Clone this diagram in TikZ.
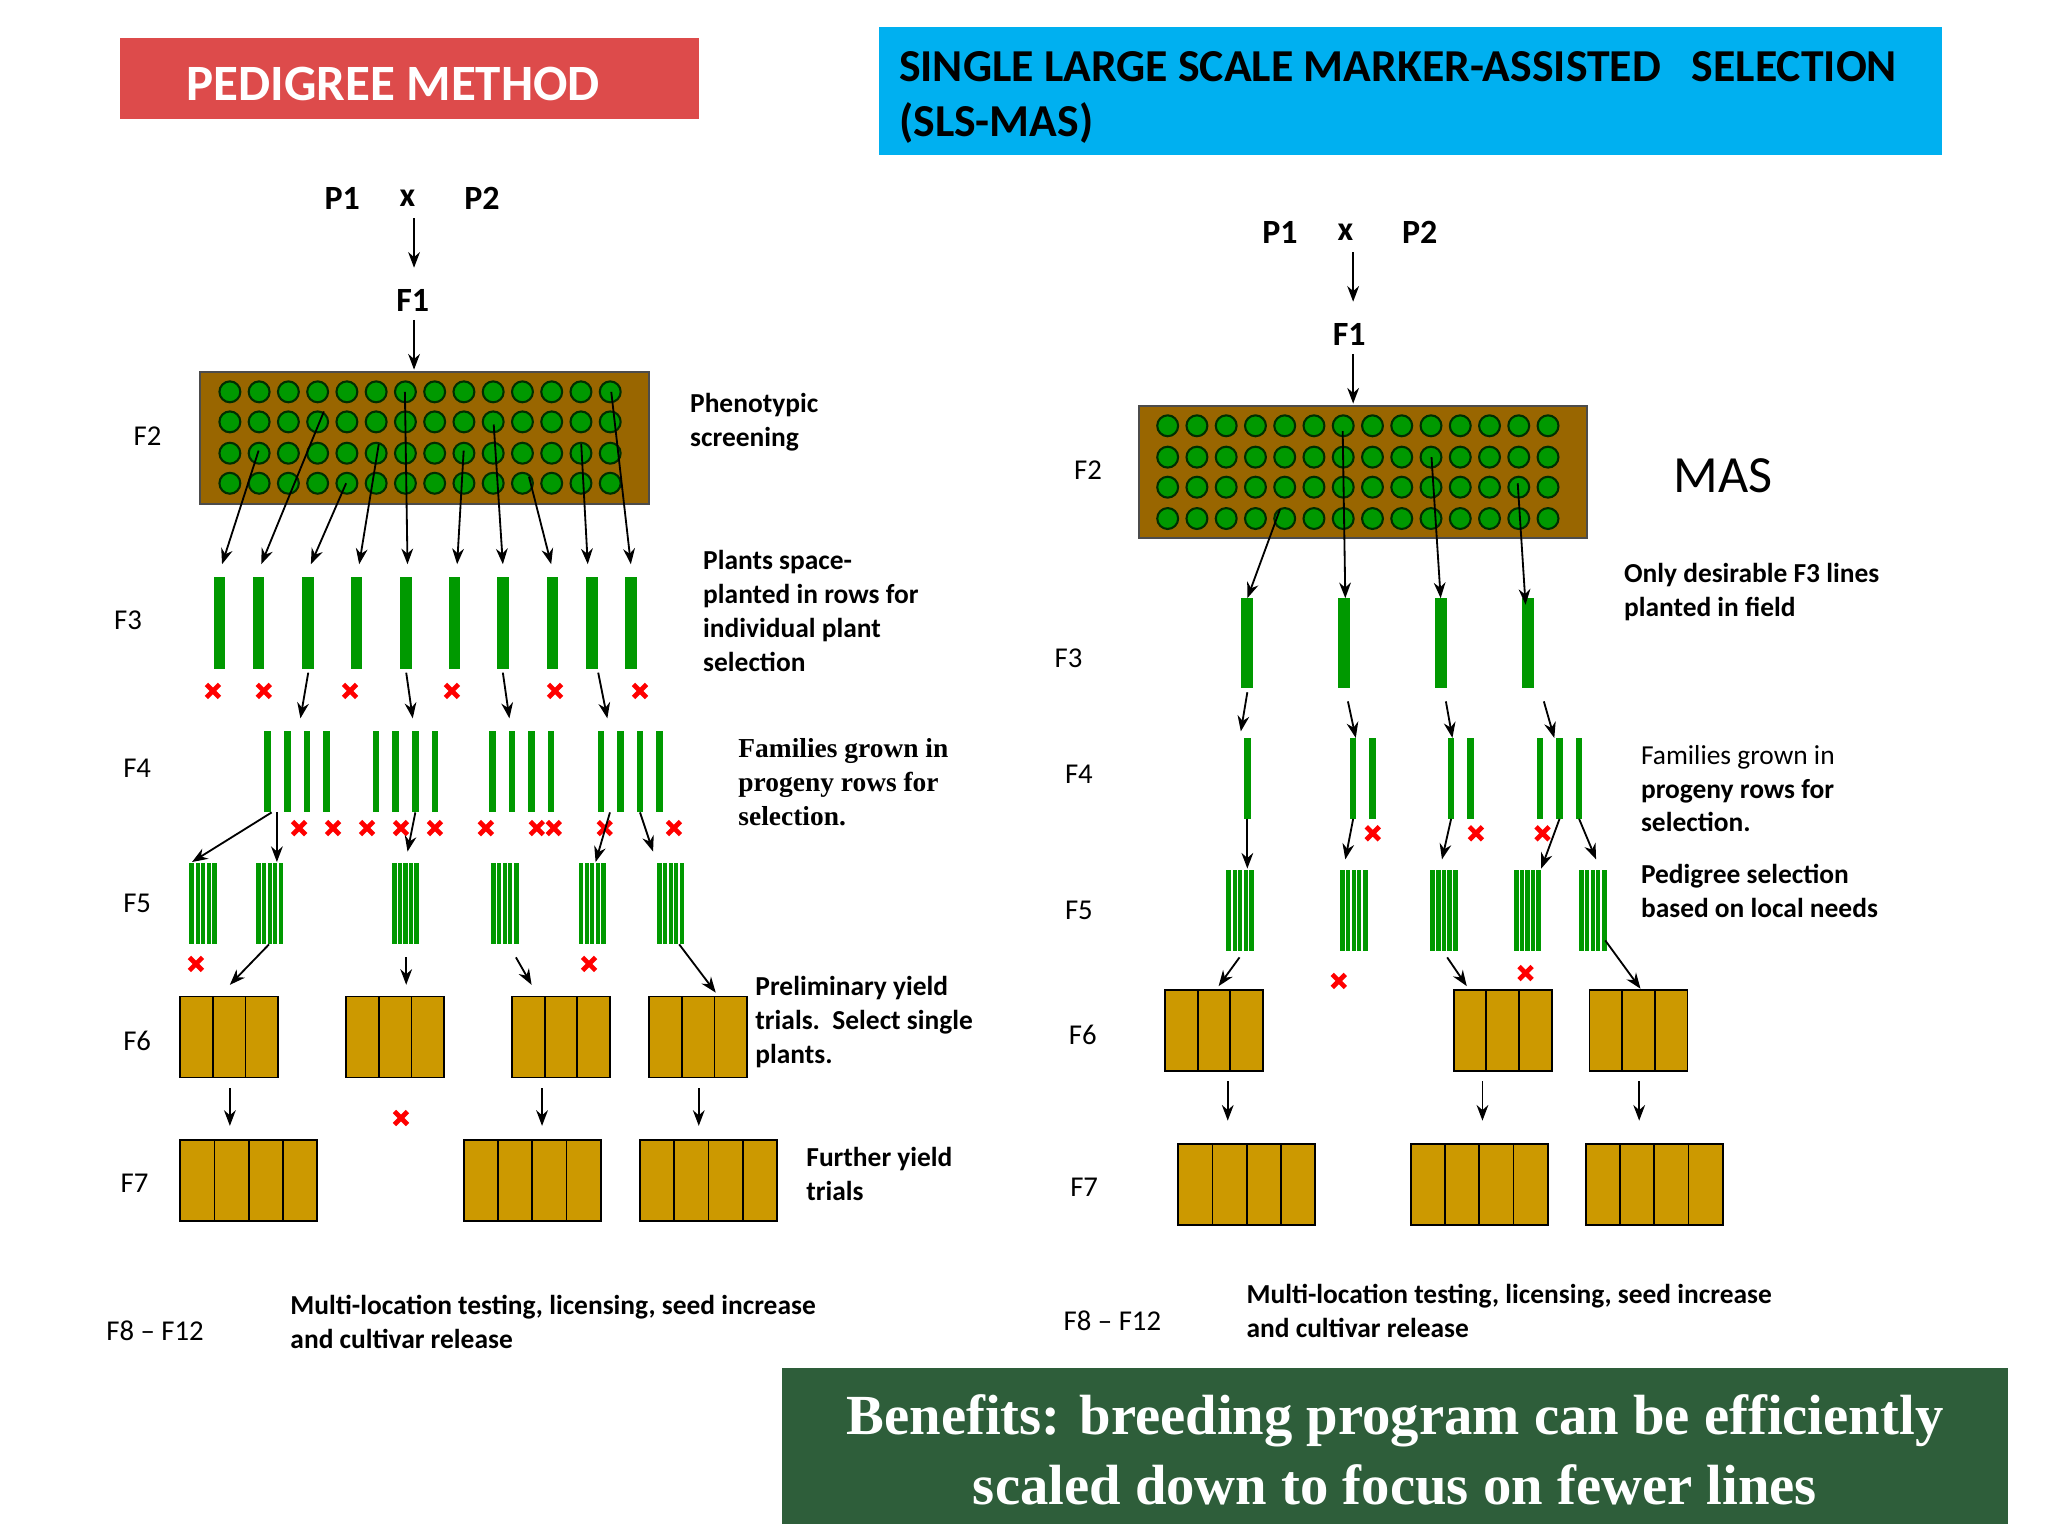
\documentclass[tikz,border=0pt]{standalone}
\usepackage{fontspec}
\setmainfont{Carlito}
\newfontfamily\serifb{Liberation Serif}
\usetikzlibrary{arrows.meta}
\definecolor{brownbox}{HTML}{996600}
\definecolor{gold}{HTML}{CC9900}
\definecolor{gr}{HTML}{009900}
\definecolor{redt}{HTML}{DD4B4B}
\definecolor{cyant}{HTML}{00B0F0}
\definecolor{bene}{HTML}{2E5E3A}
\tikzset{
 ar/.style={-{Stealth[length=6pt,width=4.5pt]},line width=0.7pt},
 lbl/.style={anchor=west,inner sep=0pt,font=\fontsize{11}{13}\selectfont},
 txt/.style={anchor=north west,inner sep=0pt,align=left,font=\bfseries\fontsize{10.5}{13}\selectfont},
 circ/.style={circle,fill=gr,draw=black!70!gr,line width=0.8pt,minimum size=8pt,inner sep=0pt},
 cell/.style={fill=gold,draw=black,line width=0.7pt},
}
\newcommand{\rx}[2]{\draw[red,line width=1.8pt] (#1-5,#2-5)--(#1+5,#2+5) (#1-5,#2+5)--(#1+5,#2-5);}
\newcommand{\famrows}[3]{\foreach \k in {1,...,#3}{\fill[gr] ({#1+(\k-1)*15-2.5},#2) rectangle ++(5,62);}}
\newcommand{\blkbar}[2]{\fill[gr] (#1,#2) rectangle ++(21,62); \foreach \k in {1,...,4}{\draw[white,line width=0.5pt] ({#1+\k*4.2},#2)--++(0,62);}}
\newcommand{\plotcells}[4]{\draw[cell] (#1,#2) rectangle ++({#3*#4},62); \foreach \k in {1,...,#3}{\draw[line width=0.7pt] ({#1+\k*#4},#2)--++(0,62);}}
\begin{document}
\begin{tikzpicture}[x=0.5pt,y=-0.5pt]
\useasboundingbox (0,0) rectangle (1568,1176);
\fill[redt] (92,29) rectangle (535,91);
\node[white,font=\bfseries\fontsize{19.5}{22}\selectfont] (tl) at (301,64) {PEDIGREE METHOD};
\fill[cyant] (673,21) rectangle (1487,119);
\node[anchor=north west,inner sep=0pt,align=left,font=\bfseries\fontsize{17.5}{21}\selectfont] (tr) at (688,39) {SINGLE LARGE SCALE MARKER-ASSISTED\ \ \ SELECTION\\(SLS-MAS)};
% ===== LEFT =====
\begin{scope}[font=\bfseries\fontsize{13}{15}\selectfont]
\node (lp1) at (262,152) {P1}; \node (lx) at (312,152) {x}; \node (lp2) at (369,152) {P2};
\node (lf1) at (316,230) {F1};
\end{scope}
\draw[ar] (317,167)--(317,205); \draw[ar] (317,245)--(317,283);
\draw[fill=brownbox,draw=black!70,line width=0.8pt] (153,285) rectangle (497,386);
\foreach \i in {0,...,13}{\foreach \y in {300,323,347,370}{\node[circ] at ({176+\i*22.4},\y) {};}}
\foreach \t/\x/\y in {F2/102/334,F3/87/475,F4/94/588,F5/94/692,F6/94/797,F7/92/906}{\node[lbl] at (\x,\y) {\t};}
\node[lbl] at (81,1019) {F8 – F12};
\foreach \x in {168,198,236,273,311,348,385,423,453,483}{\fill[gr] (\x-4.5,442) rectangle ++(9,70);}
\foreach \a/\b/\c in {198/345/170, 248/315/200, 265/370/238, 290/340/275, 310/300/312, 355/345/350, 378/325/385, 405/365/422, 445/340/450, 468/300/483}{\draw[ar] (\a,\b)--(\c,432);}
\foreach \x in {163,202,268,346,425,490}{\rx{\x}{529}}
\foreach \a/\b in {236/230,311/316,385/390,458/465}{\draw[ar] (\a,515)--(\b,550);}
\famrows{205}{560}{4} \famrows{288}{560}{4} \famrows{377}{560}{4} \famrows{460}{560}{4}
\foreach \x in {229,255,281,307,333,372,411,424,463,516}{\rx{\x}{634}}
\draw[ar] (208,622)--(147,660); \draw[ar] (212,622)--(212,660); \draw[ar] (318,622)--(312,652);
\draw[ar] (467,622)--(456,660); \draw[ar] (490,622)--(500,652);
\foreach \x in {145,196,300,376,443,503}{\blkbar{\x}{661}}
\rx{150}{738} \rx{451}{738}
\draw[ar] (206,723)--(176,754); \draw[ar] (311,733)--(311,754); \draw[ar] (395,733)--(407,754); \draw[ar] (520,723)--(548,760);
\foreach \x in {138,265,392,497}{\plotcells{\x}{763}{3}{25}}
\foreach \x in {176,415,535}{\draw[ar] (\x,833)--(\x,862);}
\rx{307}{856}
\foreach \x in {138,355,490}{\plotcells{\x}{873}{4}{26.25}}
\node[txt] at (528,301) {Phenotypic\\screening};
\node[txt] at (538,421) {Plants space-\\planted in rows for\\individual plant\\selection};
\node[txt,font=\serifb\bfseries\fontsize{10.5}{13}\selectfont] at (565,565) {Families grown in\\progeny rows for\\selection.};
\node[txt] at (578,747) {Preliminary yield\\trials.\ \ Select single\\plants.};
\node[txt] at (617,878) {Further yield\\trials};
\node[txt] at (222,991) {Multi-location testing, licensing, seed increase\\and cultivar release};
% ===== RIGHT =====
\begin{scope}[font=\bfseries\fontsize{13}{15}\selectfont]
\node (rp1) at (980,178) {P1}; \node (rx) at (1030,178) {x}; \node (rp2) at (1087,178) {P2};
\node (rf1) at (1033,256) {F1};
\end{scope}
\draw[ar] (1036,193)--(1036,231); \draw[ar] (1036,271)--(1036,309);
\draw[fill=brownbox,draw=black!70,line width=0.8pt] (872,311) rectangle (1215,412);
\foreach \i in {0,...,13}{\foreach \y in {326,350,373,397}{\node[circ] at ({894+\i*22.4},\y) {};}}
\node[font=\fontsize{20}{22}\selectfont] (mas) at (1319,364) {MAS};
\foreach \t/\x/\y in {F2/822/360,F3/807/504,F4/815/593,F5/815/697,F6/818/792,F7/819/909}{\node[lbl] at (\x,\y) {\t};}
\node[lbl] at (814,1011) {F8 – F12};
\foreach \x in {955,1029,1103,1170}{\fill[gr] (\x-4.5,458) rectangle ++(9,69);}
\draw[ar] (980,390)--(955,458); \draw[ar] (1028,330)--(1030,458); \draw[ar] (1096,350)--(1103,458); \draw[ar] (1162,370)--(1168,463);
\famrows{955}{565}{1} \famrows{1036}{565}{2} \famrows{1111}{565}{2} \famrows{1179}{565}{3}
\draw[ar] (955,530)--(950,560); \draw[ar] (1032,537)--(1038,565); \draw[ar] (1107,537)--(1112,565); \draw[ar] (1182,537)--(1190,565);
\rx{1051}{638} \rx{1130}{638} \rx{1181}{638}
\draw[ar] (955,627)--(955,665); \draw[ar] (1036,627)--(1030,658); \draw[ar] (1111,627)--(1104,658); \draw[ar] (1194,627)--(1180,665); \draw[ar] (1209,627)--(1222,658);
\foreach \x in {939,1026,1095,1159,1209}{\blkbar{\x}{666}}
\rx{1025}{751} \rx{1168}{745}
\draw[ar] (949,733)--(933,755); \draw[ar] (1108,733)--(1123,755); \draw[ar] (1229,720)--(1256,757);
\foreach \x in {892,1113,1217}{\plotcells{\x}{758}{3}{25}}
\foreach \x in {940,1135,1255}{\draw[ar] (\x,828)--(\x,858);}
\foreach \x in {902,1080,1214}{\plotcells{\x}{876}{4}{26.25}}
\node[txt] at (1243,431) {Only desirable F3 lines\\planted in field};
\node[txt] at (1256,570) {\mdseries Families grown in\\progeny rows for\\selection.};
\node[txt] at (1256,661) {Pedigree selection\\based on local needs};
\node[txt] at (954,983) {Multi-location testing, licensing, seed increase\\and cultivar release};
\fill[bene] (599,1047) rectangle (1537,1167);
\node[white,align=center,font=\serifb\bfseries\fontsize{21.7}{27}\selectfont] (ben) at (1068,1110) {Benefits: breeding program can be efficiently\\scaled down to focus on fewer lines};
\end{tikzpicture}
\end{document}
